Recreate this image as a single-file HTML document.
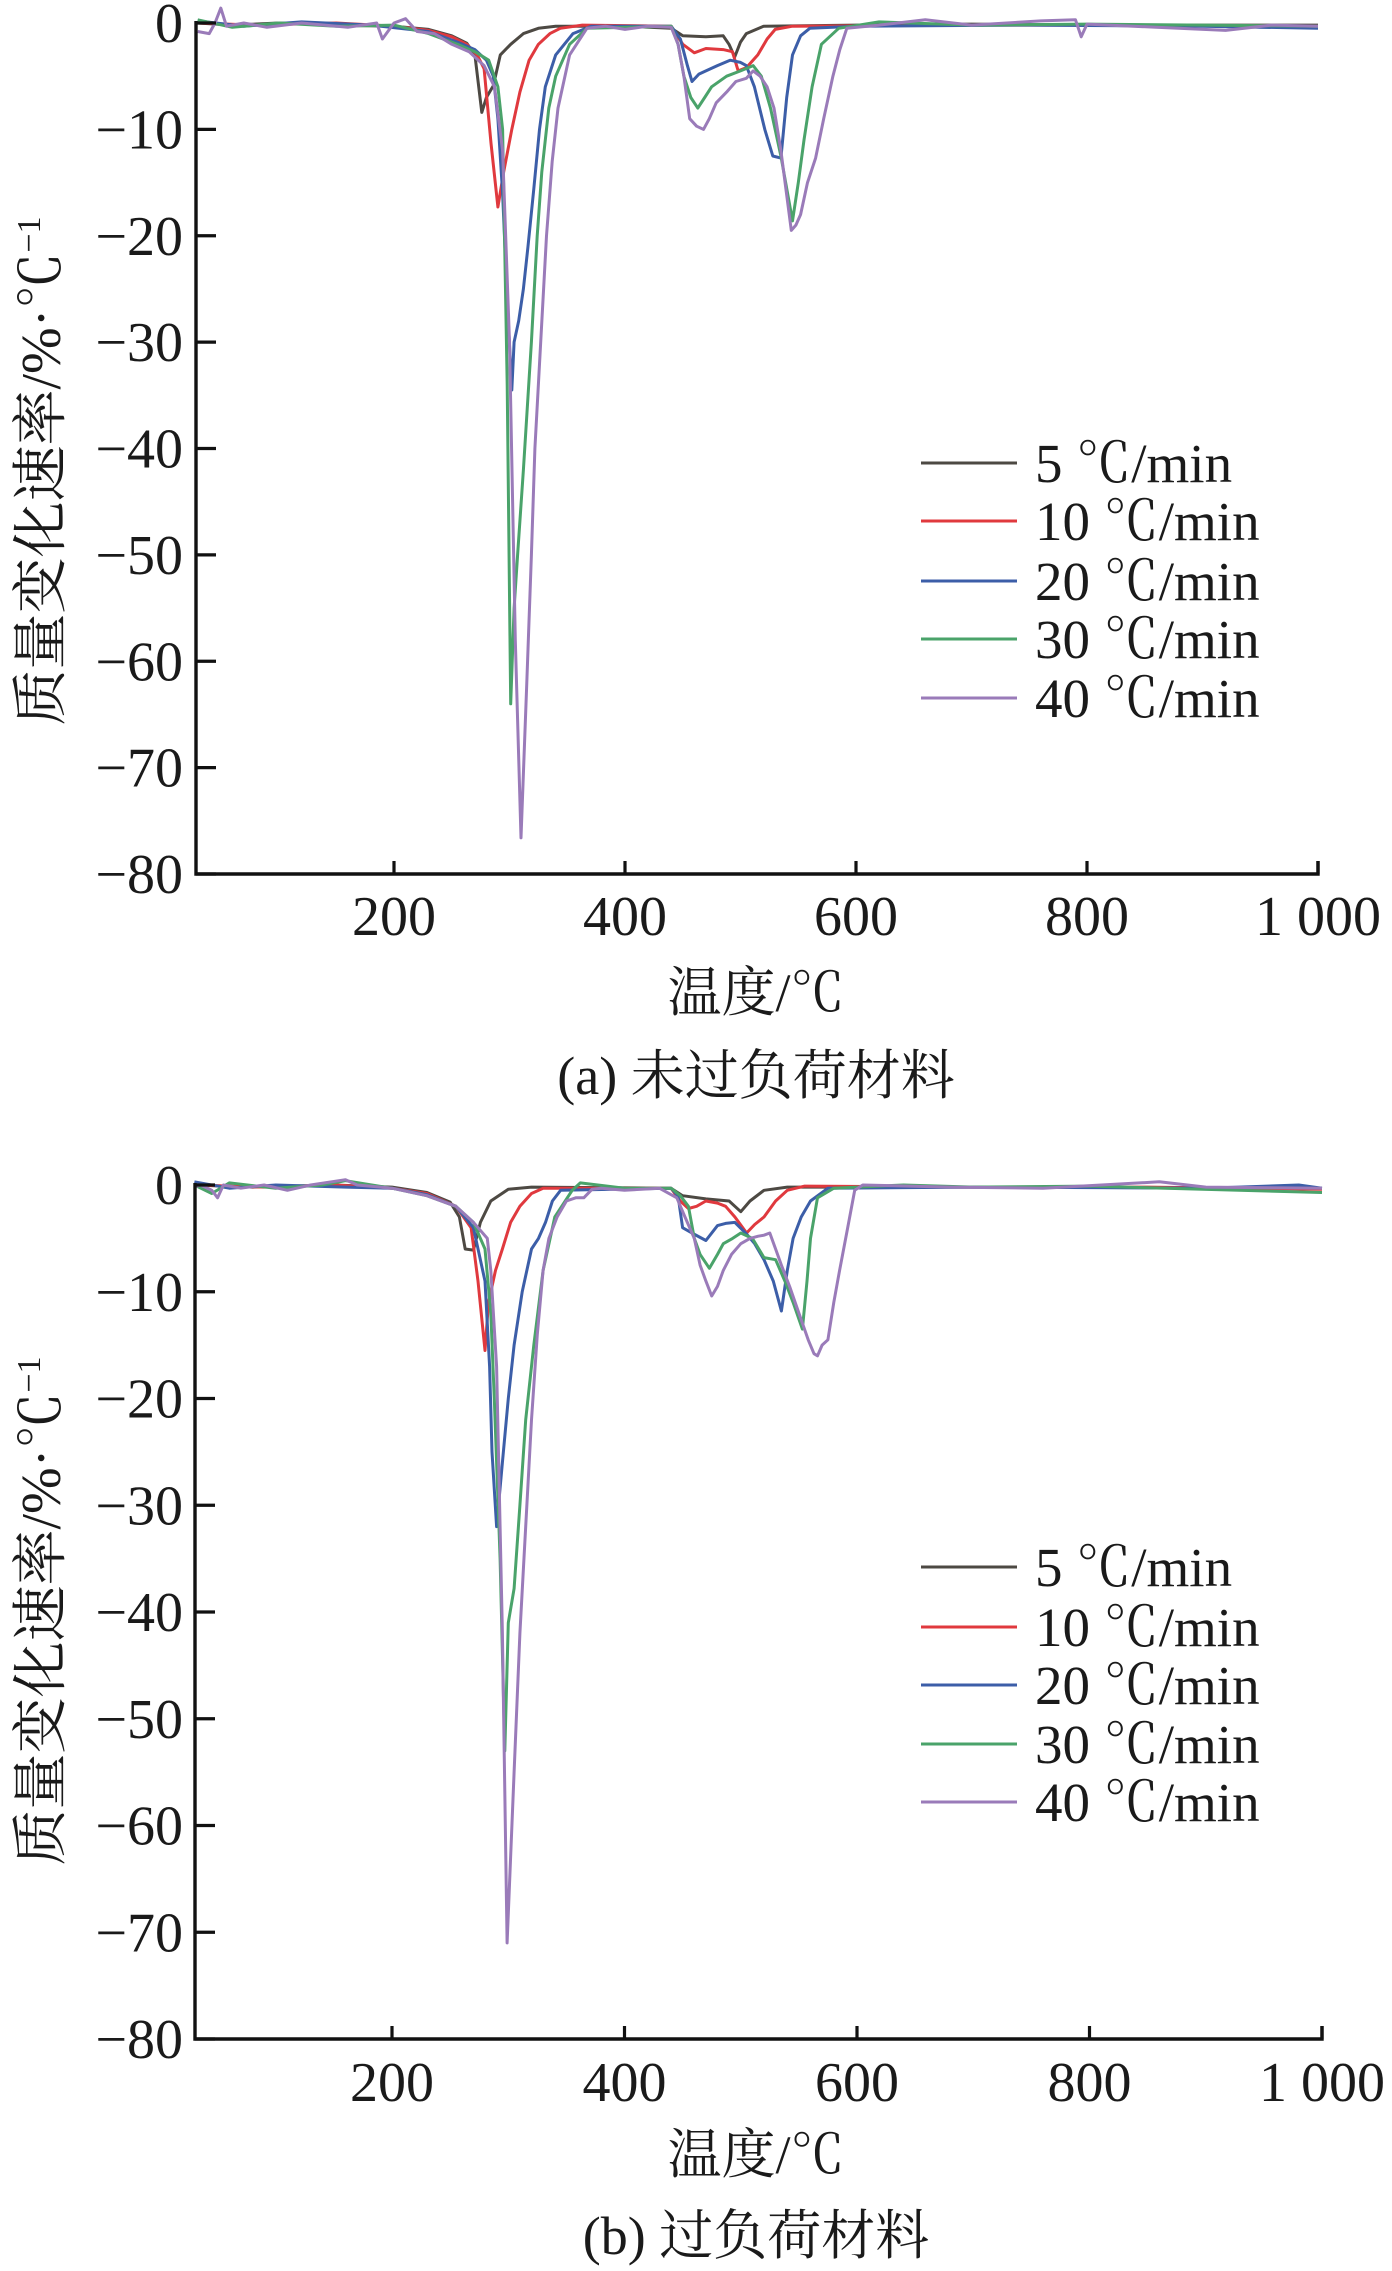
<!DOCTYPE html>
<html><head><meta charset="utf-8">
<style>
html,body{margin:0;padding:0;background:#fff;}
svg{display:block;}
text{font-family:"Liberation Serif","Noto Serif CJK SC","Noto Sans CJK SC",serif;fill:#1a1a1a;}
</style></head>
<body>
<svg id="fig" width="1392" height="2271" viewBox="0 0 1392 2271" xmlns="http://www.w3.org/2000/svg">
<g id="panelA"></g>
<g id="panelB"></g>
</svg>
<script>
// ---- shared chart data ----
const xTicks = [200, 400, 600, 800, 1000];
const xTickLabels = ["200", "400", "600", "800", "1 000"];
const yTicks = [0, -10, -20, -30, -40, -50, -60, -70, -80];
const yTickLabels = ["0", "−10", "−20", "−30", "−40", "−50", "−60", "−70", "−80"];
const seriesNames = ["5 ℃/min", "10 ℃/min", "20 ℃/min", "30 ℃/min", "40 ℃/min"];
const seriesColors = ["#4d4943", "#e0393e", "#3c5ea8", "#4aa36a", "#9a7bb9"];

// ---- panel (a) series: [temperature, rate] ----
const a5 = [[30,0],[60,-0.2],[100,0],[150,-0.2],[200,-0.3],[230,-0.6],[250,-1.2],[263,-1.9],[270,-3],[276,-8.4],[280,-7],[286,-5.9],[292,-3],[301,-2],[312,-1],[325,-0.5],[340,-0.3],[400,-0.3],[440,-0.5],[450,-1.2],[470,-1.3],[485,-1.2],[490,-2],[495,-3.2],[500,-1.8],[505,-1],[520,-0.3],[600,-0.2],[700,-0.1],[800,-0.2],[900,-0.2],[1000,-0.2]];
const a10 = [[30,0],[80,-0.2],[150,0],[200,-0.3],[230,-0.7],[250,-1.3],[263,-2],[272,-3],[278,-4.3],[284,-11.3],[290,-17.3],[295,-14],[302,-10],[309,-6.5],[317,-3.5],[325,-2],[335,-1],[344,-0.5],[363,-0.2],[440,-0.3],[450,-2],[460,-2.8],[470,-2.4],[485,-2.5],[493,-2.7],[498,-4.5],[505,-4.2],[515,-3],[523,-1.5],[530,-0.6],[545,-0.3],[700,-0.2],[850,-0.2],[1000,-0.3]];
const a20 = [[30,0.2],[70,-0.3],[120,0.1],[180,-0.2],[230,-0.8],[255,-1.8],[270,-2.5],[280,-3.5],[286,-5],[290,-9],[294,-16],[298,-26],[302,-34.5],[304,-30],[308,-28],[312,-25],[316,-21],[321,-15.6],[326,-10],[331,-6],[340,-3],[355,-1],[371,-0.3],[440,-0.3],[448,-1.5],[454,-4],[458,-5.5],[464,-4.8],[470,-4.5],[480,-4],[491,-3.5],[500,-3.7],[505,-4],[512,-6],[521,-10],[528,-12.5],[535,-12.7],[540,-7],[545,-3],[552,-1.2],[560,-0.5],[600,-0.3],[750,-0.2],[900,-0.3],[1000,-0.5]];
const a30 = [[30,0.3],[60,-0.4],[100,0],[150,-0.3],[200,-0.2],[230,-1],[255,-2],[270,-2.7],[282,-3.5],[290,-6],[294,-10],[298,-34],[301,-64],[304,-55],[307,-50],[312,-42],[319,-30],[324,-20],[328,-14],[334,-8],[340,-5],[352,-2],[367,-0.5],[440,-0.3],[446,-2],[451,-5],[457,-7],[463,-8],[469,-7],[475,-6],[488,-5],[500,-4.5],[511,-4],[518,-5],[526,-8],[535,-12.5],[545,-18.6],[550,-15],[555,-11],[562,-6],[570,-2],[585,-0.5],[620,0.1],[700,-0.2],[800,-0.1],[900,-0.2],[1000,-0.3]];
const a40 = [[30,-0.8],[40,-1],[45,0],[50,1.4],[55,-0.3],[70,0],[90,-0.4],[120,0],[160,-0.4],[185,0],[190,-1.5],[200,0],[210,0.4],[220,-0.8],[235,-1],[250,-2],[265,-2.7],[278,-4],[287,-6],[294,-12],[300,-30],[305,-58],[310,-76.6],[315,-62],[319,-50],[322,-40],[327,-30],[332,-20],[337,-13],[342,-8],[352,-3],[367,-0.5],[383,-0.3],[400,-0.6],[420,-0.3],[440,-0.4],[446,-2],[451,-5],[456,-9],[462,-9.7],[468,-10],[473,-9],[479,-7.5],[488,-6.5],[496,-5.5],[505,-5.2],[511,-4.5],[517,-5],[523,-6],[529,-8],[535,-12],[544,-19.5],[548,-19],[552,-18],[558,-15],[565,-12.7],[572,-9],[580,-5],[586,-2.5],[592,-0.5],[620,-0.2],[660,0.3],[700,-0.2],[760,0.2],[790,0.3],[795,-1.3],[800,-0.1],[860,-0.4],[920,-0.7],[960,-0.2],[1000,-0.3]];

// ---- panel (b) series ----
const b5 = [[30,0],[80,-0.2],[150,0],[200,-0.2],[230,-0.7],[250,-1.6],[258,-3],[263,-6],[270,-6.1],[276,-3.5],[285,-1.5],[300,-0.4],[320,-0.2],[440,-0.3],[450,-1],[470,-1.3],[490,-1.5],[495,-2],[500,-2.5],[508,-1.5],[520,-0.5],[540,-0.2],[700,-0.2],[1000,-0.3]];
const b10 = [[30,0],[90,-0.2],[150,0],[200,-0.3],[230,-0.8],[255,-2],[268,-4],[274,-9],[280,-15.5],[283,-11],[289,-8],[295,-6],[302,-3.5],[310,-2],[320,-0.8],[330,-0.3],[440,-0.3],[448,-1.5],[455,-2.2],[462,-2],[470,-1.5],[480,-1.7],[487,-2],[495,-3],[505,-4.5],[512,-3.7],[520,-3],[530,-1.5],[540,-0.5],[555,-0.1],[700,-0.2],[850,-0.2],[1000,-0.4]];
const b20 = [[30,0.3],[60,-0.3],[100,0],[160,-0.2],[200,-0.3],[230,-0.9],[255,-2],[270,-4],[280,-9],[284,-17],[286,-25],[290,-32],[295,-26],[300,-20],[305,-15],[312,-10],[320,-6],[326,-5],[332,-3.5],[338,-1.5],[345,-0.5],[440,-0.3],[446,-1],[450,-4],[458,-4.5],[470,-5.2],[480,-3.8],[487,-3.6],[495,-3.5],[505,-4.6],[512,-5.5],[520,-7],[528,-9],[535,-11.8],[540,-8],[545,-5],[552,-3],[560,-1.5],[575,-0.3],[700,-0.2],[900,-0.3],[980,0],[1000,-0.3]];
const b30 = [[30,0],[45,-0.8],[60,0.2],[100,-0.3],[140,0],[160,0.4],[200,-0.3],[230,-1],[255,-2],[270,-3.5],[280,-6],[285,-12],[288,-20],[293,-35],[297,-53],[300,-41],[305,-37.8],[310,-30],[315,-22],[322,-15],[330,-8],[340,-3],[355,-0.5],[362,0.2],[400,-0.3],[440,-0.3],[448,-1],[455,-2],[460,-5],[465,-6.5],[473,-7.8],[480,-6.5],[485,-5.5],[493,-5],[500,-4.5],[510,-5],[520,-6.8],[530,-7],[538,-9],[545,-11],[553,-13.5],[557,-9],[560,-5],[566,-1.2],[580,-0.3],[640,0],[700,-0.2],[800,-0.1],[1000,-0.7]];
const b40 = [[30,-0.2],[35,0],[45,-0.5],[50,-1.2],[55,0],[70,-0.3],[90,0],[110,-0.5],[130,0],[160,0.5],[170,0],[200,-0.3],[230,-1],[255,-2],[270,-3.5],[282,-5],[285,-8],[290,-17],[295,-42],[299,-71],[302,-63],[305,-55],[310,-42],[315,-32],[320,-22],[325,-14],[330,-8],[335,-5],[342,-3],[350,-1.5],[358,-1.2],[365,-1.2],[372,-0.4],[380,-0.3],[400,-0.5],[430,-0.3],[445,-1.2],[452,-3],[460,-5],[465,-7.5],[470,-9],[475,-10.4],[480,-9.5],[485,-8],[492,-6.5],[500,-5.5],[508,-5],[515,-4.8],[520,-4.7],[525,-4.5],[530,-6],[535,-7.5],[542,-9.5],[550,-12],[558,-14.5],[563,-15.8],[566,-16],[570,-15],[575,-14.5],[580,-11],[585,-8],[592,-4],[598,-0.5],[605,0],[680,-0.2],[760,-0.3],[860,0.3],[900,-0.2],[1000,-0.3]];

const panels = [
  {g:"panelA", left:196, right:1318, xAt200:394, xAt1000:1318, top:23, bottom:874,
   legendY:[463,521,581,639,698], tickLabelY:915, titleY:992, yTitleCY:471, caption:"(a) 未过负荷材料", captionY:1075,
   series:[a5,a10,a20,a30,a40], key:"a"},
  {g:"panelB", left:195, right:1322, xAt200:392, xAt1000:1322, top:1185, bottom:2039,
   legendY:[1567,1627,1685,1744,1802], tickLabelY:2081, titleY:2154, yTitleCY:1611, caption:"(b) 过负荷材料", captionY:2235,
   series:[b5,b10,b20,b30,b40], key:"b"}
];

const NS = "http://www.w3.org/2000/svg";
function mk(tag, parent, attrs){
  const e = document.createElementNS(NS, tag);
  for (const k in attrs) e.setAttribute(k, attrs[k]);
  parent.appendChild(e);
  return e;
}

panels.forEach(p => {
  const g = document.getElementById(p.g);
  const slope = (p.xAt1000 - p.xAt200) / 800;
  const xs = t => p.xAt200 + (t - 200) * slope;
  const ys = v => p.top + (0 - v) / 80 * (p.bottom - p.top);

  p.series.forEach((s, i) => {
    const d = s.map((pt, j) => (j ? "L" : "M") + xs(pt[0]).toFixed(1) + " " + ys(pt[1]).toFixed(1)).join(" ");
    const path = mk("path", g, {d:d, fill:"none", stroke:seriesColors[i], "stroke-width":"3", "stroke-linejoin":"round"});
    
    
  });

  const ax = mk("path", g, {d:`M${p.left} ${p.top-2} L${p.left} ${p.bottom} L${p.right} ${p.bottom} L${p.right} ${p.bottom-13}`, fill:"none", stroke:"#111", "stroke-width":"3.4"});
  
  

  yTicks.forEach((v, i) => {
    const y = ys(v);
    const t = mk("line", g, {x1:p.left, x2:p.left + 20, y1:y, y2:y, stroke:"#111", "stroke-width":"3.2"});
    
    
    const l = mk("text", g, {x:183, y:y + 19, "text-anchor":"end", "font-size":"56"});
    l.textContent = yTickLabels[i];
    
    
  });

  xTicks.forEach((v, i) => {
    const x = xs(v);
    const t = mk("line", g, {x1:x, x2:x, y1:p.bottom, y2:p.bottom - 13, stroke:"#111", "stroke-width":"3.2"});
    
    
    const l = mk("text", g, {x:x, y:p.tickLabelY + 20, "text-anchor":"middle", "font-size":"56"});
    l.textContent = xTickLabels[i];
    
    
  });

  const xt = mk("text", g, {x:756, y:p.titleY + 19, "text-anchor":"middle", "font-size":"54"});
  xt.textContent = "温度/℃";
  
  

  const yt = mk("text", g, {x:0, y:0, "text-anchor":"middle", "font-size":"56", transform:`translate(60 ${p.yTitleCY}) rotate(-90)`});
  yt.innerHTML = '质量变化速率/%·℃<tspan dy="-20" font-size="34">−1</tspan>';
  
  

  const cap = mk("text", g, {x:756, y:p.captionY + 19, "text-anchor":"middle", "font-size":"54"});
  cap.textContent = p.caption;
  
  

  const lg = mk("g", g, {});
  
  
  seriesNames.forEach((n, i) => {
    const y = p.legendY[i];
    const ent = mk("g", lg, {});
    
    
    const ln = mk("line", ent, {x1:921, x2:1017, y1:y, y2:y, stroke:seriesColors[i], "stroke-width":"3"});
    
    
    const tx = mk("text", ent, {x:1035, y:y + 19, "font-size":"55"});
    tx.style.whiteSpace = "pre";
    tx.textContent = n;
    
    
  });
});
</script>
</body></html>
